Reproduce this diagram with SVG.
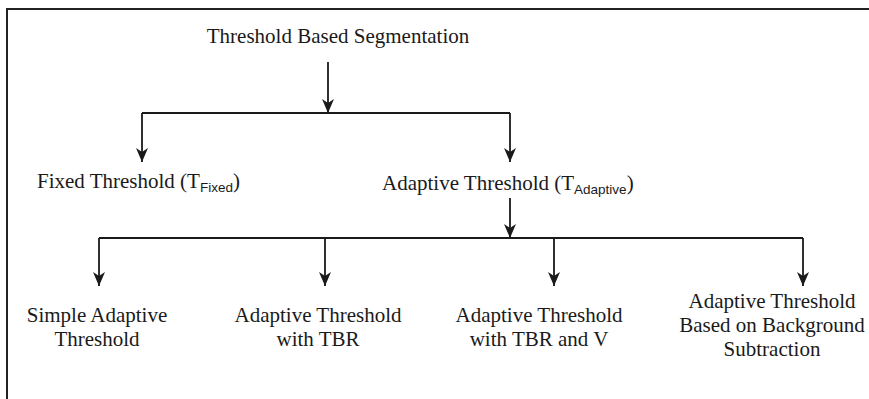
<svg xmlns="http://www.w3.org/2000/svg" width="869" height="399" viewBox="0 0 869 399">
<style>
text{font-family:"Liberation Serif","Times New Roman",serif;font-size:21px;fill:#1a1a1a}
.c{text-anchor:middle}
.sub{font-family:"Liberation Sans",Arial,sans-serif;font-size:13.5px}
.ln{stroke:#1a1a1a;stroke-width:1.8;fill:none}
.frame{stroke:#222;stroke-width:2;fill:none}
</style>
<defs>
<marker id="ah" viewBox="0 0 14 12" refX="14" refY="6" markerWidth="14" markerHeight="12" markerUnits="userSpaceOnUse" orient="auto">
<path d="M0,0 L14,6 L0,12 L4,6 z" fill="#1a1a1a"/>
</marker>
</defs>
<path class="frame" d="M869,9 H7 V399"/>
<g id="connectors">
<line class="ln" x1="328" y1="62" x2="328" y2="113" marker-end="url(#ah)"/>
<path class="ln" d="M142,113 H510"/>
<line class="ln" x1="142" y1="113" x2="142" y2="162" marker-end="url(#ah)"/>
<line class="ln" x1="510" y1="113" x2="510" y2="162" marker-end="url(#ah)"/>
<line class="ln" x1="510" y1="198" x2="510" y2="238" marker-end="url(#ah)"/>
<line class="ln" x1="99" y1="238" x2="803" y2="238"/>
<line class="ln" x1="99" y1="238" x2="99" y2="286" marker-end="url(#ah)"/>
<line class="ln" x1="325" y1="238" x2="325" y2="286" marker-end="url(#ah)"/>
<line class="ln" x1="554" y1="238" x2="554" y2="286" marker-end="url(#ah)"/>
<line class="ln" x1="803" y1="238" x2="803" y2="286" marker-end="url(#ah)"/>
</g>
<g id="root"><text class="c" x="338" y="43">Threshold Based Segmentation</text></g>
<g id="fixed"><text x="37" y="188">Fixed Threshold (T<tspan class="sub" dy="4">Fixed</tspan><tspan dy="-4">)</tspan></text></g>
<g id="adaptive"><text x="382" y="190">Adaptive Threshold (T<tspan class="sub" dy="4">Adaptive</tspan><tspan dy="-4">)</tspan></text></g>
<g id="simple"><text class="c" x="97" y="322">Simple Adaptive</text><text class="c" x="97" y="346">Threshold</text></g>
<g id="tbr"><text class="c" x="318" y="322">Adaptive Threshold</text><text class="c" x="318" y="346">with TBR</text></g>
<g id="tbrv"><text class="c" x="539" y="322">Adaptive Threshold</text><text class="c" x="539" y="346">with TBR and V</text></g>
<g id="bg"><text class="c" x="772" y="308">Adaptive Threshold</text><text class="c" x="772" y="332">Based on Background</text><text class="c" x="772" y="356">Subtraction</text></g>
</svg>
